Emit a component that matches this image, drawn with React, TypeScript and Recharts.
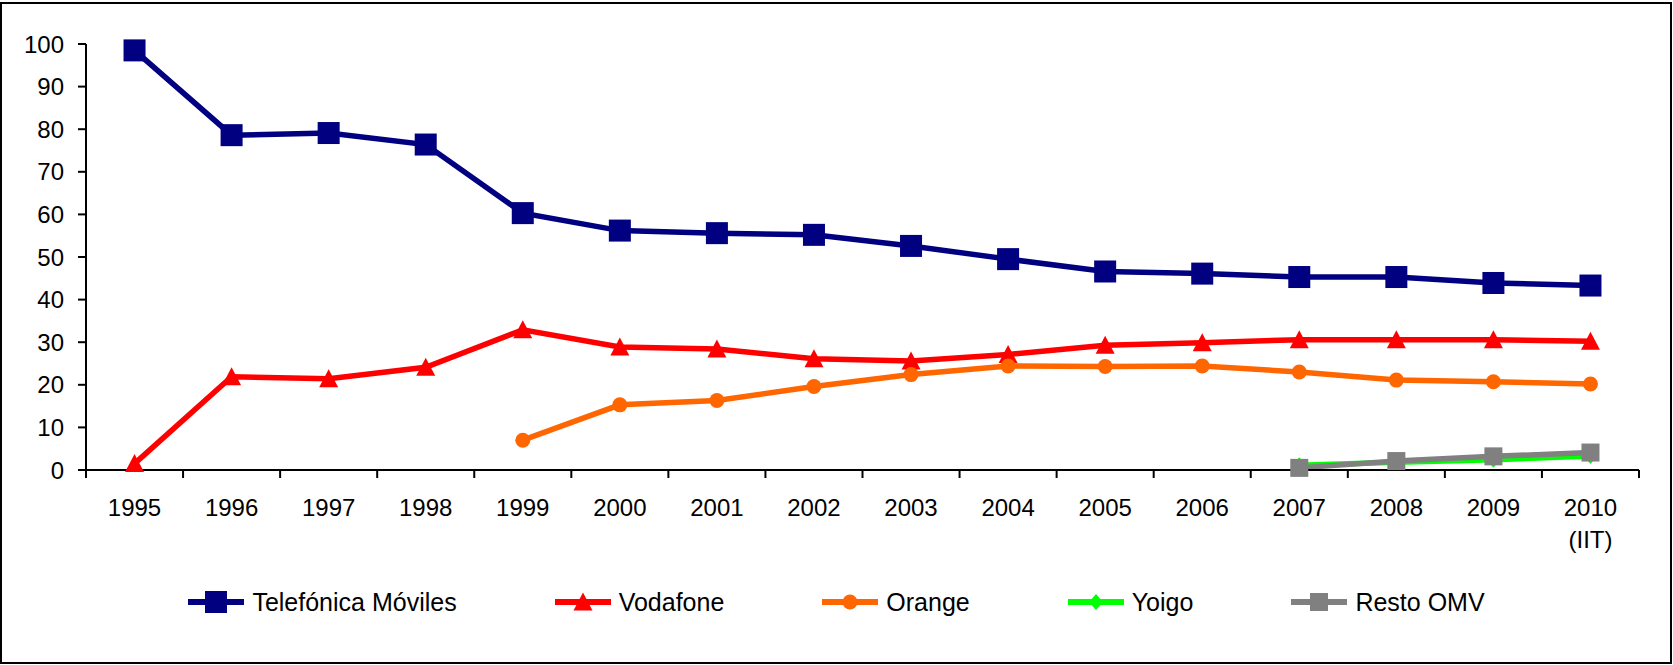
import React from "react";
import { LineChart, Line, XAxis, YAxis, Legend } from "recharts";

const FONT = "'Liberation Sans', Arial, sans-serif";

const categories = [
  "1995", "1996", "1997", "1998", "1999", "2000", "2001", "2002",
  "2003", "2004", "2005", "2006", "2007", "2008", "2009", "2010\n(IIT)",
];

const telefonica = [98.5, 78.6, 79.1, 76.4, 60.3, 56.2, 55.6, 55.2, 52.6, 49.5, 46.6, 46.1, 45.3, 45.3, 43.9, 43.3];
const vodafone = [1.5, 21.9, 21.4, 24.1, 32.9, 28.9, 28.4, 26.1, 25.6, 27.1, 29.3, 29.9, 30.6, 30.6, 30.6, 30.2];
const orange = [null, null, null, null, 7.0, 15.3, 16.3, 19.6, 22.4, 24.4, 24.3, 24.4, 23.0, 21.1, 20.7, 20.2];
const yoigo = [null, null, null, null, null, null, null, null, null, null, null, null, 1.1, 1.8, 2.4, 3.3];
const restoOmv = [null, null, null, null, null, null, null, null, null, null, null, null, 0.5, 2.1, 3.2, 4.1];

const yTicks = [0, 10, 20, 30, 40, 50, 60, 70, 80, 90, 100];
// integer = category boundary (tick mark), half = category centre (label)
const xTicks = Array.from({ length: 33 }, (_, k) => k / 2);

const data = categories.map((label, i) => ({
  x: i + 0.5,
  label,
  telefonica: telefonica[i],
  vodafone: vodafone[i],
  orange: orange[i],
  yoigo: yoigo[i],
  restoOmv: restoOmv[i],
}));

type Shape = "square" | "triangle" | "circle" | "diamond" | "smallSquare";

function marker(shape: Shape, color: string, cx: number, cy: number, key?: string | number) {
  switch (shape) {
    case "square":
      return <rect key={key} x={cx - 11} y={cy - 11} width={22} height={22} fill={color} />;
    case "smallSquare":
      return <rect key={key} x={cx - 9} y={cy - 9} width={18} height={18} fill={color} />;
    case "triangle":
      return (
        <polygon
          key={key}
          points={`${cx},${cy - 9.5} ${cx - 9.5},${cy + 8.5} ${cx + 9.5},${cy + 8.5}`}
          fill={color}
        />
      );
    case "circle":
      return <circle key={key} cx={cx} cy={cy} r={7.5} fill={color} />;
    case "diamond":
      return (
        <polygon
          key={key}
          points={`${cx},${cy - 8} ${cx + 7},${cy} ${cx},${cy + 8} ${cx - 7},${cy}`}
          fill={color}
        />
      );
  }
}

const series: { key: string; name: string; color: string; shape: Shape }[] = [
  { key: "telefonica", name: "Telefónica Móviles", color: "#000080", shape: "square" },
  { key: "vodafone", name: "Vodafone", color: "#FF0000", shape: "triangle" },
  { key: "orange", name: "Orange", color: "#FF6600", shape: "circle" },
  { key: "yoigo", name: "Yoigo", color: "#00FF00", shape: "diamond" },
  { key: "restoOmv", name: "Resto OMV", color: "#808080", shape: "smallSquare" },
];

const makeDot = (shape: Shape, color: string) => (props: any) => {
  const { cx, cy, index, value } = props;
  if (cx == null || cy == null || value == null) return <g key={`e-${index}`} />;
  return marker(shape, color, cx, cy, `d-${index}`);
};

function XTick(props: any) {
  const { x, y, payload } = props;
  const v = payload.value as number;
  if (Number.isInteger(v)) {
    return <line x1={x} x2={x} y1={y - 8} y2={y} stroke="#000" strokeWidth={2} />;
  }
  const lines = categories[Math.floor(v)].split("\n");
  return (
    <text x={x} y={y} textAnchor="middle" fontSize={24} fill="#000" fontFamily={FONT}>
      {lines.map((t, i) => (
        <tspan key={i} x={x} dy={i === 0 ? 38 : 32}>
          {t}
        </tspan>
      ))}
    </text>
  );
}

function LegendContent() {
  return (
    <div
      style={{
        display: "flex",
        justifyContent: "center",
        alignItems: "center",
        height: 30,
        fontFamily: FONT,
        fontSize: 25,
        color: "#000",
      }}
    >
      {series.map((s, i) => (
        <div
          key={s.key}
          style={{ display: "flex", alignItems: "center", marginRight: i < series.length - 1 ? 98 : 0 }}
        >
          <svg width={56} height={30}>
            <line x1={0} x2={56} y1={15} y2={15} stroke={s.color} strokeWidth={6} />
            {marker(s.shape, s.color, 28, 15)}
          </svg>
          <span style={{ marginLeft: 8, whiteSpace: "nowrap" }}>{s.name}</span>
        </div>
      ))}
    </div>
  );
}

export default function App() {
  return (
    <div style={{ position: "absolute", left: 0, top: 0, width: 1673, height: 665, background: "#fff" }}>
      <div
        style={{
          position: "absolute",
          left: 0,
          top: 2,
          width: 1672,
          height: 662,
          border: "2px solid #000",
          boxSizing: "border-box",
          pointerEvents: "none",
        }}
      />
      <LineChart
        width={1673}
        height={665}
        data={data}
        margin={{ top: 44, right: 34, left: 26, bottom: 48 }}
        style={{ fontFamily: FONT }}
      >
        <XAxis
          type="number"
          dataKey="x"
          domain={[0, 16]}
          ticks={xTicks}
          interval={0}
          allowDecimals
          tickLine={false}
          tickSize={8}
          tickMargin={0}
          height={117}
          axisLine={{ stroke: "#000", strokeWidth: 2 }}
          tick={<XTick />}
        />
        <YAxis
          type="number"
          domain={[0, 100]}
          ticks={yTicks}
          interval={0}
          width={60}
          tickSize={8}
          tickMargin={14}
          axisLine={{ stroke: "#000", strokeWidth: 2 }}
          tickLine={{ stroke: "#000", strokeWidth: 2 }}
          tick={{ fontSize: 24, fill: "#000", fontFamily: FONT }}
        />
        <Legend
          verticalAlign="bottom"
          align="center"
          wrapperStyle={{ left: 0, width: 1673 }}
          content={() => <LegendContent />}
        />
        {series.map((s) => (
          <Line
            key={s.key}
            type="linear"
            dataKey={s.key}
            name={s.name}
            stroke={s.color}
            strokeWidth={5.5}
            dot={makeDot(s.shape, s.color)}
            activeDot={false}
            isAnimationActive={false}
          />
        ))}
      </LineChart>
    </div>
  );
}
